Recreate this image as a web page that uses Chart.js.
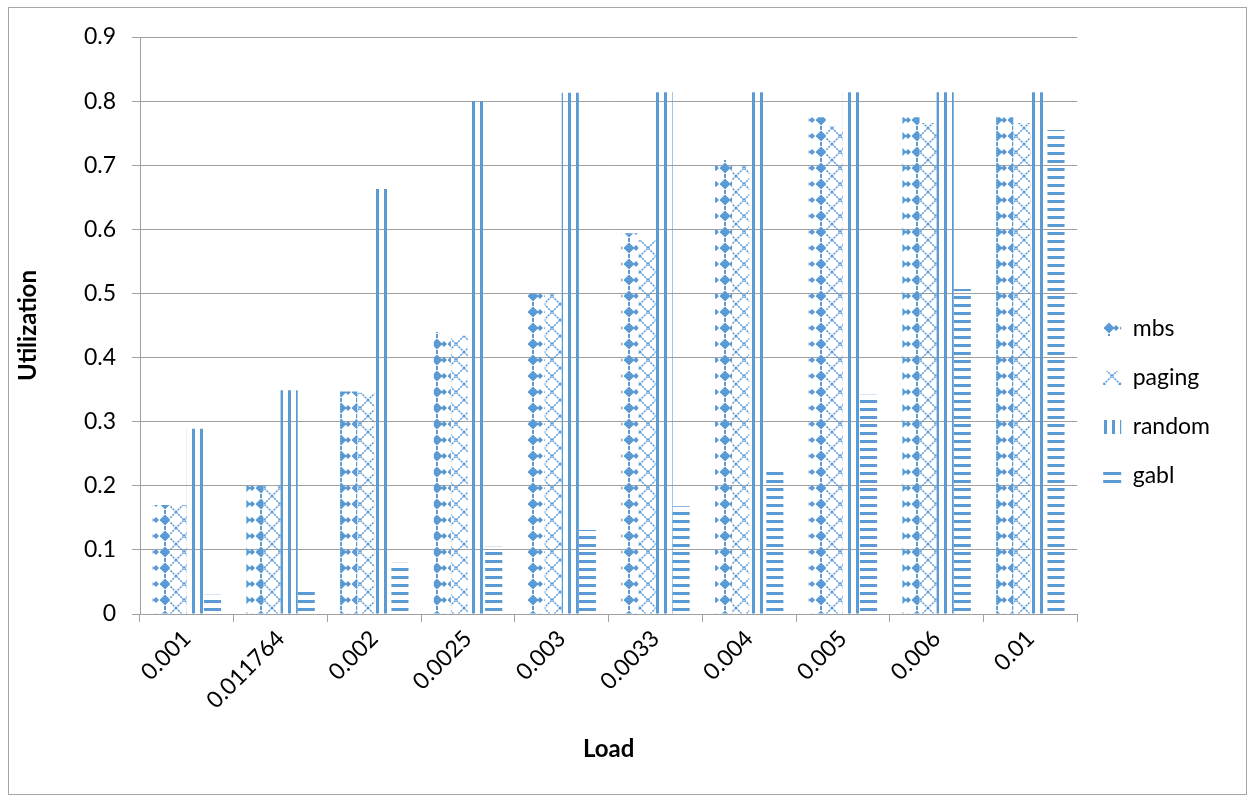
<!DOCTYPE html>
<html>
<head>
<meta charset="utf-8">
<script src="https://cdn.jsdelivr.net/npm/chart.js@4/dist/chart.umd.min.js"></script>
<style>
  html, body { margin: 0; padding: 0; background: #fff; }
  #wrap { width: 1250px; height: 797px; }
</style>
</head>
<body>
<div id="wrap"><canvas id="utilChart" width="1250" height="797"></canvas></div>
<script>
const loads = ['0.001', '0.011764', '0.002', '0.0025', '0.003', '0.0033', '0.004', '0.005', '0.006', '0.01'];
const mbs = [0.17, 0.2, 0.347, 0.44, 0.5, 0.594, 0.708, 0.775, 0.775, 0.775];
const paging = [0.17, 0.2, 0.345, 0.434, 0.5, 0.583, 0.7, 0.761, 0.766, 0.766];
const random = [0.289, 0.349, 0.663, 0.8, 0.813, 0.814, 0.814, 0.814, 0.814, 0.814];
const gabl = [0.03, 0.042, 0.08, 0.105, 0.131, 0.168, 0.228, 0.342, 0.507, 0.755];
const yTicks = [0, 0.1, 0.2, 0.3, 0.4, 0.5, 0.6, 0.7, 0.8, 0.9];

const BLUE = '#5B9BD5';
const FONT = 'Lato, "Open Sans", sans-serif';

// small tiles repeated as bar fills
function makePattern(w, h, draw) {
    const c = document.createElement('canvas');
    c.width = w;
    c.height = h;
    const g = c.getContext('2d');
    g.fillStyle = BLUE;
    g.strokeStyle = BLUE;
    draw(g);
    return document.getElementById('utilChart').getContext('2d').createPattern(c, 'repeat');
}

function diamond(g, x, y, r) {
    g.beginPath();
    g.moveTo(x, y - r);
    g.lineTo(x + r, y);
    g.lineTo(x, y + r);
    g.lineTo(x - r, y);
    g.closePath();
    g.fill();
}

const mbsFill = makePattern(16, 16, g => {
    diamond(g, 5, 8, 5.5);
    diamond(g, 12, 8, 3);
    g.fillRect(4, 0, 2, 2);
    g.fillRect(4, 14, 2, 2);
});

const pagingFill = makePattern(16, 16, g => {
    g.lineWidth = 1.5;
    g.setLineDash([2, 1]);
    g.beginPath();
    g.moveTo(0, 0); g.lineTo(16, 16);
    g.moveTo(16, 0); g.lineTo(0, 16);
    g.stroke();
});

const randomFill = makePattern(8, 4, g => {
    g.fillRect(0, 0, 3, 4);
});

const gablFill = makePattern(4, 8, g => {
    g.fillRect(0, 0, 4, 3);
});

const frame = {
    id: 'frame',
    beforeDraw(chart) {
        const ctx = chart.ctx;
        ctx.save();
        ctx.fillStyle = '#fff';
        ctx.fillRect(0, 0, chart.width, chart.height);
        ctx.strokeStyle = '#a6a6a6';
        ctx.lineWidth = 1;
        ctx.strokeRect(8.5, 7.5, 1238, 787);
        ctx.restore();
    }
};

new Chart(document.getElementById('utilChart'), {
    type: 'bar',
    data: {
        labels: loads,
        datasets: [
            { label: 'mbs', data: mbs, backgroundColor: mbsFill },
            { label: 'paging', data: paging, backgroundColor: pagingFill },
            { label: 'random', data: random, backgroundColor: randomFill },
            { label: 'gabl', data: gabl, backgroundColor: gablFill }
        ]
    },
    options: {
        responsive: false,
        animation: false,
        devicePixelRatio: 1,
        layout: { padding: { left: 10, top: 37, right: 30, bottom: 29 } },
        datasets: {
            bar: { barPercentage: 1, categoryPercentage: 0.73, borderWidth: 0 }
        },
        plugins: {
            legend: {
                position: 'right',
                labels: {
                    color: '#000',
                    font: { family: FONT, size: 23 },
                    boxWidth: 18,
                    boxHeight: 14,
                    padding: 26
                }
            },
            tooltip: { enabled: false }
        },
        scales: {
            x: {
                grid: { drawOnChartArea: false, offset: true, tickLength: 8, color: '#a0a0a0' },
                border: { color: '#a0a0a0' },
                ticks: {
                    color: '#000',
                    font: { family: FONT, size: 23 },
                    minRotation: 45,
                    maxRotation: 45,
                    autoSkip: false
                },
                title: {
                    display: true,
                    text: 'Load',
                    color: '#000',
                    font: { family: FONT, size: 24, weight: 'bold' }
                },
                afterFit(scale) { scale.height = 154; }
            },
            y: {
                min: 0,
                max: 0.9,
                grid: { color: '#a0a0a0', tickLength: 8 },
                border: { color: '#a0a0a0' },
                afterBuildTicks(scale) { scale.ticks = yTicks.map(v => ({ value: v })); },
                ticks: {
                    color: '#000',
                    padding: 16,
                    font: { family: FONT, size: 23 },
                    callback: v => String(Number(v.toFixed(1)))
                },
                title: {
                    display: true,
                    text: 'Utilization',
                    color: '#000',
                    font: { family: FONT, size: 24, weight: 'bold' }
                },
                afterFit(scale) { scale.width = 130; }
            }
        }
    },
    plugins: [frame]
});
</script>
</body>
</html>
